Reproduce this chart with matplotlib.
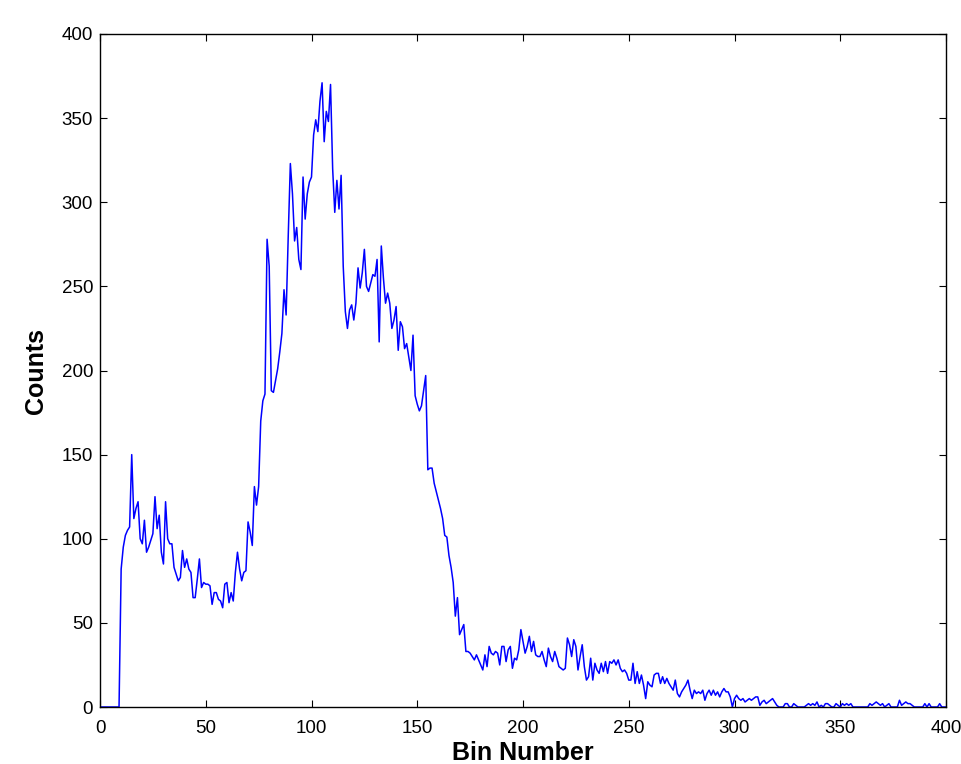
import numpy as np
from matplotlib import pyplot as plt

plt.rcParams["font.family"] = ["Liberation Sans", "DejaVu Sans"]

# counts per bin (bins 0..400)
counts = [
    0, 0, 0, 0, 0, 0, 0, 0, 0, 0,
    82, 95, 102, 105, 107, 150, 112, 118, 122, 100,
    97, 111, 92, 95, 99, 103, 125, 106, 114, 92,
    85, 122, 100, 97, 97, 83, 79, 75, 77, 93,
    83, 88, 82, 80, 65, 65, 76, 88, 71, 74,
    73, 73, 72, 61, 68, 68, 64, 63, 59, 73,
    74, 62, 68, 63, 80, 92, 82, 75, 80, 81,
    110, 104, 96, 131, 120, 131, 170, 182, 186, 278,
    262, 188, 187, 194, 201, 211, 222, 248, 233, 280,
    323, 305, 277, 285, 266, 260, 315, 290, 305, 312,
    315, 340, 349, 342, 360, 371, 336, 354, 348, 370,
    320, 294, 313, 296, 316, 262, 235, 225, 236, 239,
    230, 240, 261, 249, 258, 272, 250, 247, 252, 257,
    256, 266, 217, 274, 255, 240, 246, 240, 225, 230,
    238, 212, 229, 226, 213, 216, 208, 200, 221, 185,
    180, 176, 179, 188, 197, 141, 142, 142, 133, 128,
    123, 118, 112, 102, 101, 90, 83, 74, 54, 65,
    43, 46, 49, 33, 33, 32, 30, 28, 31, 28,
    25, 22, 31, 24, 36, 32, 31, 33, 32, 25,
    36, 36, 27, 34, 36, 23, 29, 28, 34, 46,
    39, 32, 36, 42, 33, 39, 31, 30, 30, 33,
    28, 24, 35, 30, 27, 33, 29, 24, 23, 22,
    23, 41, 37, 30, 40, 36, 22, 30, 37, 24,
    16, 18, 29, 16, 26, 22, 20, 26, 21, 27,
    20, 27, 26, 28, 25, 28, 23, 21, 22, 20,
    16, 16, 26, 14, 21, 14, 19, 13, 5, 15,
    13, 12, 19, 20, 20, 14, 18, 14, 17, 14,
    12, 10, 16, 8, 6, 9, 11, 13, 16, 10,
    5, 10, 8, 9, 8, 10, 4, 8, 10, 7,
    10, 7, 9, 6, 9, 11, 9, 9, 6, 0,
    5, 7, 5, 4, 5, 3, 4, 5, 4, 5,
    6, 6, 1, 3, 4, 2, 3, 4, 5, 3,
    1, 0, 0, 0, 2, 2, 0, 0, 2, 1,
    0, 0, 0, 0, 1, 2, 1, 2, 1, 3,
    0, 1, 0, 2, 2, 1, 0, 0, 2, 1,
    0, 2, 1, 2, 1, 2, 0, 0, 0, 0,
    0, 0, 0, 0, 2, 1, 2, 3, 2, 1,
    2, 0, 1, 2, 0, 0, 0, 0, 4, 1,
    2, 3, 2, 2, 1, 0, 0, 0, 0, 0,
    2, 0, 2, 0, 0, 0, 0, 2, 0, 0,
    0,
]
bins = np.arange(len(counts))

x_ticks = [0, 50, 100, 150, 200, 250, 300, 350, 400]
y_ticks = [0, 50, 100, 150, 200, 250, 300, 350, 400]

fig = plt.figure(figsize=(9.61, 7.64), dpi=100)
ax = fig.add_axes([100 / 961, 1 - 707 / 764, 846 / 961, 673 / 764])

ax.plot(bins, counts, color="#0000ff", linewidth=1.1)

ax.set_xlim(0, 400)
ax.set_ylim(0, 400)
ax.set_xticks(x_ticks)
ax.set_yticks(y_ticks)
ax.tick_params(direction="in", top=True, right=True, length=5, width=0.8,
               labelsize=13.5)
ax.tick_params(axis="x", pad=9.5)
ax.tick_params(axis="y", pad=5)
for s in ax.spines.values():
    s.set_linewidth(1.0)

ax.set_xlabel("Bin Number", fontsize=18, fontweight="bold", labelpad=3)
ax.set_ylabel("Counts", fontsize=18, fontweight="bold", labelpad=10)

fig.savefig("out.png", dpi=100)
